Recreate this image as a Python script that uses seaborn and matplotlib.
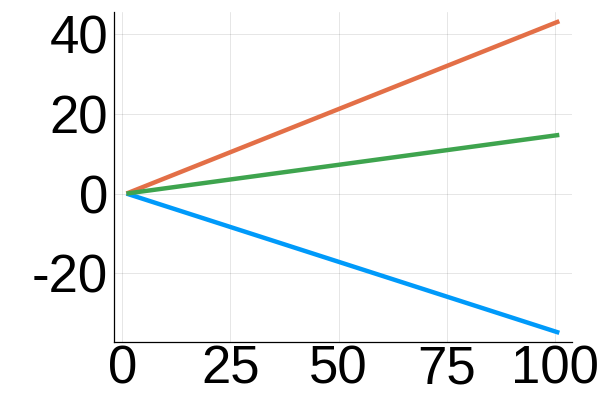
import matplotlib
matplotlib.use("Agg")
import matplotlib.pyplot as plt
import seaborn as sns
import pandas as pd

# Data (straight lines: start and end points)
x_vals = [1, 101]
y1 = [0.0, -34.9]   # blue
y2 = [0.0, 43.2]    # orange
y3 = [0.0, 14.7]    # green
series_names = ["y1", "y2", "y3"]
colors = ["#009AFA", "#E36F47", "#3EA44E"]
x_ticks = [0, 25, 50, 75, 100]
y_ticks = [-20, 0, 20, 40]

df = pd.concat([
    pd.DataFrame({"x": x_vals, "y": ys, "series": name})
    for name, ys in zip(series_names, [y1, y2, y3])
])

sns.set_style("white")
plt.rcParams["font.family"] = ["Liberation Sans", "DejaVu Sans"]
plt.rcParams["axes.unicode_minus"] = False

fig = plt.figure(figsize=(6, 4), dpi=100)
ax = fig.add_axes([113.5 / 600, 1 - 342 / 400, (572.3 - 113.5) / 600, (342 - 12) / 400])

sns.lineplot(data=df, x="x", y="y", hue="series", palette=colors,
             linewidth=3.2, legend=False, ax=ax, solid_capstyle="butt")

ax.set_xlim(-2, 104)
ax.set_ylim(-37.2, 45.5)
ax.set_xticks(x_ticks)
ax.set_yticks(y_ticks)
ax.set_xticklabels([str(v) for v in x_ticks])
ax.set_yticklabels([str(v) for v in y_ticks])
ax.set_xlabel("")
ax.set_ylabel("")

ax.grid(True, color="black", alpha=0.1, linewidth=0.7)
ax.set_axisbelow(True)
for side in ["top", "right"]:
    ax.spines[side].set_visible(False)
for side in ["left", "bottom"]:
    ax.spines[side].set_color("black")
    ax.spines[side].set_linewidth(0.9)

ax.tick_params(axis="both", direction="in", length=3.5, width=0.7, color="black",
               labelsize=38, labelcolor="black")
ax.tick_params(axis="x", pad=2)
ax.tick_params(axis="y", pad=4)

fig.savefig("out.png", dpi=100)
